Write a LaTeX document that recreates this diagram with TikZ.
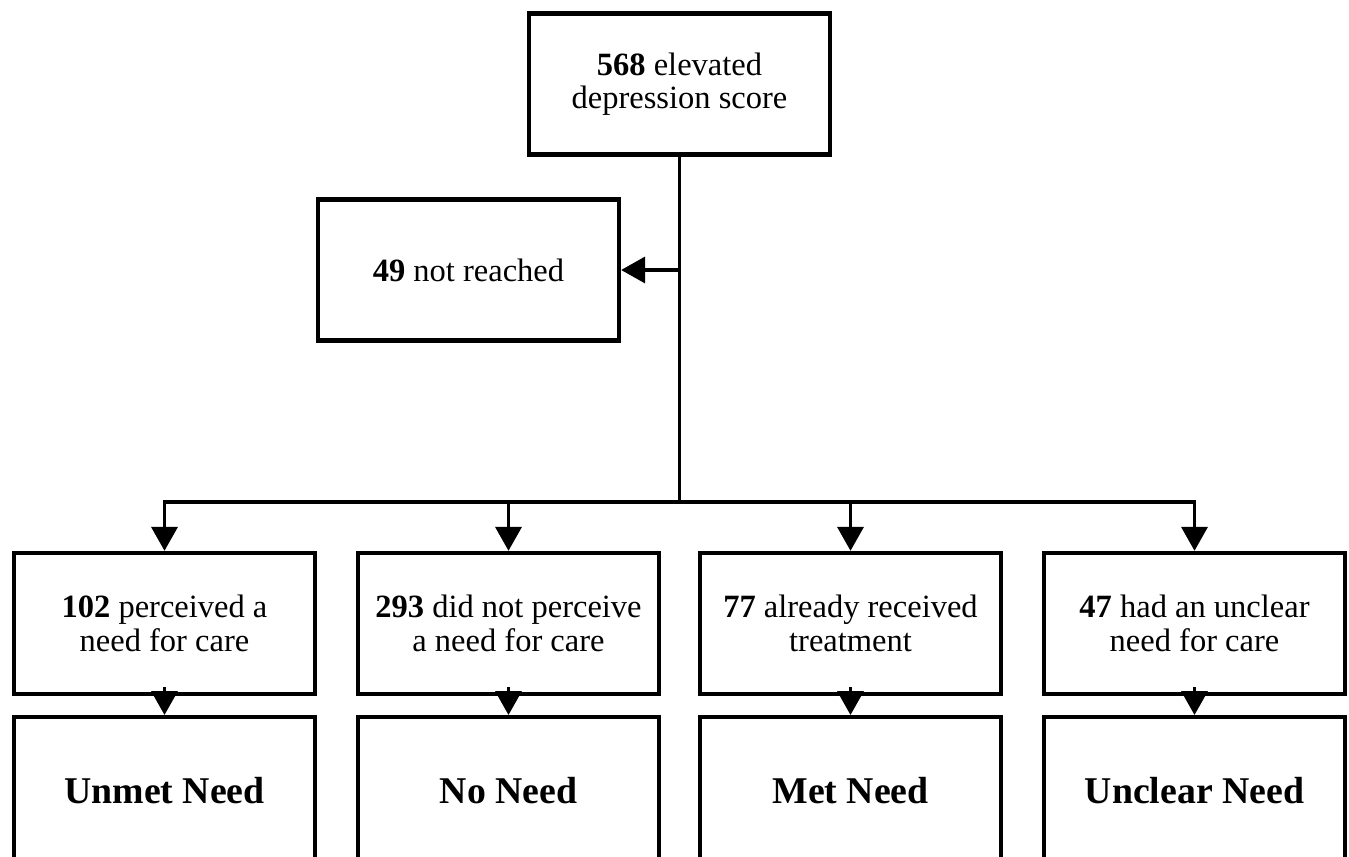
\documentclass[tikz,border=0pt]{standalone}
\usepackage{fontspec}
\setmainfont{Liberation Serif}
\usetikzlibrary{arrows.meta}
\begin{document}
\begin{tikzpicture}[x=0.02cm,y=-0.02cm]
\tikzstyle{every node}+=[inner sep=0pt]
\tikzstyle{box}=[draw=black,line width=2.5pt,minimum width=6.02cm,minimum height=2.82cm,align=center,font=\fontsize{18.5}{19}\selectfont]
\tikzstyle{outcome}=[box,minimum height=2.95cm,font=\fontsize{21.5}{22}\selectfont\bfseries]
\tikzstyle{link}=[black,line width=1.9pt]
\tikzstyle{arr}=[link,-{Triangle[width=14.8pt,length=13.6pt]}]
\useasboundingbox (0,0) rectangle (1349,857);
\clip (0,0) rectangle (1349,857);
\node [box] (score) at (679.5,84) {\textbf{568} elevated\\depression score};
\node [box] (lost) at (468.5,270) {\textbf{49} not reached};
\node [box] (perc) at (164.5,623.5) {\textbf{102} perceived a\\need for care};
\node [box] (noperc) at (508.5,623.5) {\textbf{293} did not perceive\\a need for care};
\node [box] (treated) at (850.5,623.5) {\textbf{77} already received\\treatment};
\node [box] (unclear) at (1194.5,623.5) {\textbf{47} had an unclear\\need for care};
\node [outcome,anchor=north] (unmet) at (164.5,715) {Unmet Need};
\node [outcome,anchor=north] (none) at (508.5,715) {No Need};
\node [outcome,anchor=north] (met) at (850.5,715) {Met Need};
\node [outcome,anchor=north] (uncl) at (1194.5,715) {Unclear Need};
\coordinate (mid) at (679.5,270);
\coordinate (split) at (679.5,502);
\draw [link] (score.south) -- (split);
\draw [arr] (mid) -- (lost.east);
\draw [arr] (split) -| (perc.north);
\draw [arr] (split) -| (noperc.north);
\draw [arr] (split) -| (treated.north);
\draw [arr] (split) -| (unclear.north);
\draw [arr] ([yshift=5pt]perc.south) -- (unmet.north);
\draw [arr] ([yshift=5pt]noperc.south) -- (none.north);
\draw [arr] ([yshift=5pt]treated.south) -- (met.north);
\draw [arr] ([yshift=5pt]unclear.south) -- (uncl.north);
\end{tikzpicture}
\end{document}
